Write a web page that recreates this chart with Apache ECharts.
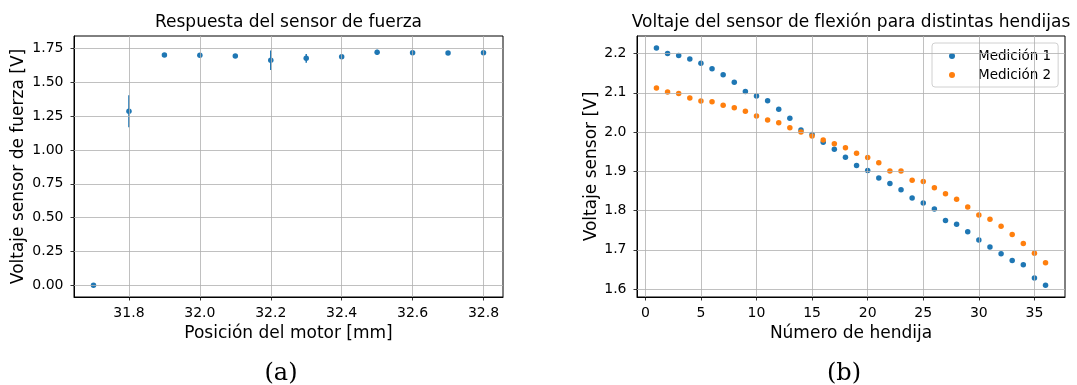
<!DOCTYPE html>
<html lang="es">
<head>
  <meta charset="utf-8">
</head>
<body style="margin: 0; background: #fff">
  <div id="container" style="width: 1077px; height: 385px"></div>

  <script src="https://cdn.jsdelivr.net/npm/echarts@6/dist/echarts.min.js"></script>
  <script>
    // (a) respuesta del sensor de fuerza
    var posicion = [31.7, 31.8, 31.9, 32.0, 32.1, 32.2, 32.3, 32.4, 32.5, 32.6, 32.7, 32.8];
    var fuerza = [0.0, 1.287, 1.703, 1.700, 1.695, 1.663, 1.678, 1.690, 1.722, 1.720, 1.717, 1.720];
    var fuerzaErr = [0.005, 0.118, 0.005, 0.005, 0.005, 0.072, 0.032, 0.01, 0.02, 0.008, 0.008, 0.008];
    var ticksXa = [31.8, 32.0, 32.2, 32.4, 32.6, 32.8];
    var ticksYa = [0, 0.25, 0.5, 0.75, 1.0, 1.25, 1.5, 1.75];

    // (b) sensor de flexion
    var hendija = [1, 2, 3, 4, 5, 6, 7, 8, 9, 10, 11, 12, 13, 14, 15, 16, 17, 18,
                   19, 20, 21, 22, 23, 24, 25, 26, 27, 28, 29, 30, 31, 32, 33, 34, 35, 36];
    var medicion1 = [2.214, 2.200, 2.195, 2.186, 2.175, 2.161, 2.146, 2.127, 2.103, 2.092,
                     2.080, 2.058, 2.035, 2.005, 1.994, 1.974, 1.956, 1.936, 1.915, 1.902,
                     1.883, 1.869, 1.853, 1.832, 1.819, 1.804, 1.775, 1.765, 1.746, 1.725,
                     1.707, 1.690, 1.673, 1.662, 1.628, 1.610];
    var medicion2 = [2.112, 2.102, 2.098, 2.087, 2.079, 2.077, 2.068, 2.062, 2.053, 2.041,
                     2.031, 2.024, 2.011, 2.000, 1.990, 1.980, 1.970, 1.960, 1.946, 1.935,
                     1.922, 1.901, 1.901, 1.877, 1.874, 1.858, 1.843, 1.829, 1.809, 1.789,
                     1.778, 1.760, 1.739, 1.716, 1.691, 1.667];
    var ticksXb = [0, 5, 10, 15, 20, 25, 30, 35];
    var ticksYb = [1.6, 1.7, 1.8, 1.9, 2.0, 2.1, 2.2];

    var azul = '#1f77b4', naranja = '#ff7f0e';
    var fuente = 'DejaVu Sans';

    var chart = echarts.init(document.getElementById('container'), null, { renderer: 'canvas' });

    function ejeX(idx, min, max, ticks, dec, nombre) {
      return {
        type: 'value', gridIndex: idx, min: min, max: max,
        name: nombre, nameLocation: 'middle', nameGap: 25,
        nameTextStyle: { fontFamily: fuente, fontSize: 17, color: '#000' },
        axisLine: { show: true, onZero: false, lineStyle: { color: '#000', width: 1 } },
        axisTick: { show: true, length: 3.5, customValues: ticks, lineStyle: { color: '#000', width: 0.8 } },
        axisLabel: { customValues: ticks, margin: 9.5, fontFamily: fuente, fontSize: 14, color: '#000',
          formatter: function (v) { return v.toFixed(dec); } },
        splitLine: { show: false }
      };
    }
    function ejeY(idx, min, max, ticks, dec, nombre, gap) {
      return {
        type: 'value', gridIndex: idx, min: min, max: max,
        name: nombre, nameLocation: 'middle', nameGap: gap, nameRotate: 90,
        nameTextStyle: { fontFamily: fuente, fontSize: 17, color: '#000' },
        axisLine: { show: true, onZero: false, lineStyle: { color: '#000', width: 1 } },
        axisTick: { show: true, length: 3.5, customValues: ticks, lineStyle: { color: '#000', width: 0.8 } },
        axisLabel: { customValues: ticks, margin: 10.5, fontFamily: fuente, fontSize: 14, color: '#000',
          formatter: function (v) { return v.toFixed(dec); } },
        splitLine: { show: false }
      };
    }

    // lineas de rejilla en los valores de los ticks
    function rejilla(idx, tx, ty) {
      var lineas = tx.map(function (v) { return { xAxis: v }; })
        .concat(ty.map(function (v) { return { yAxis: v }; }));
      return {
        name: 'rejilla' + idx, type: 'scatter', xAxisIndex: idx, yAxisIndex: idx,
        data: [], z: 1, silent: true,
        markLine: {
          silent: true, symbol: ['none', 'none'], animation: false,
          label: { show: false },
          lineStyle: { color: '#b0b0b0', width: 0.8, type: 'solid' },
          emphasis: { disabled: true },
          data: lineas
        }
      };
    }

    var option = {
      animation: false,
      backgroundColor: '#fff',
      grid: [
        { left: 74, top: 36, width: 429, height: 261, show: true, borderColor: '#000', borderWidth: 1 },
        { left: 637, top: 36, width: 428, height: 261, show: true, borderColor: '#000', borderWidth: 1 }
      ],
      xAxis: [
        ejeX(0, 31.645, 32.855, ticksXa, 1, 'Posición del motor [mm]'),
        ejeX(1, -0.75, 37.75, ticksXb, 0, 'Número de hendija')
      ],
      yAxis: [
        ejeY(0, -0.087, 1.843, ticksYa, 2, 'Voltaje sensor de fuerza [V]', 47),
        ejeY(1, 1.5798, 2.2447, ticksYb, 1, 'Voltaje sensor [V]', 37)
      ],
      legend: {
        data: ['Medición 1', 'Medición 2'],
        orient: 'vertical', left: 932, top: 43,
        icon: 'circle', itemWidth: 34, itemHeight: 6, itemGap: 5,
        padding: [6, 7, 5, 17],
        backgroundColor: 'rgba(255,255,255,0.8)',
        borderColor: '#d0d0d0', borderWidth: 1, borderRadius: 3,
        textStyle: { fontFamily: fuente, fontSize: 13.5, color: '#000', lineHeight: 14, padding: [0, 0, 0, 4] }
      },
      graphic: [
        { type: 'text', x: 288.5, y: 23, style: { text: 'Respuesta del sensor de fuerza', fontFamily: fuente, fontSize: 17, fill: '#000', align: 'center', verticalAlign: 'middle' } },
        { type: 'text', x: 851, y: 23, style: { text: 'Voltaje del sensor de flexión para distintas hendijas', fontFamily: fuente, fontSize: 17, fill: '#000', align: 'center', verticalAlign: 'middle' } },
        { type: 'text', x: 281, y: 374, style: { text: '(a)', fontFamily: 'DejaVu Serif', fontSize: 24, fill: '#000', align: 'center', verticalAlign: 'middle' } },
        { type: 'text', x: 844, y: 374, style: { text: '(b)', fontFamily: 'DejaVu Serif', fontSize: 24, fill: '#000', align: 'center', verticalAlign: 'middle' } }
      ],
      series: [
        rejilla(0, ticksXa, ticksYa),
        rejilla(1, ticksXb, ticksYb),
        {
          name: 'errores', type: 'custom', xAxisIndex: 0, yAxisIndex: 0,
          data: posicion.map(function (x, i) { return [x, fuerza[i], fuerzaErr[i]]; }),
          renderItem: function (params, api) {
            var a = api.coord([api.value(0), api.value(1) - api.value(2)]);
            var b = api.coord([api.value(0), api.value(1) + api.value(2)]);
            return { type: 'line', shape: { x1: a[0], y1: a[1], x2: b[0], y2: b[1] },
              style: { stroke: azul, lineWidth: 1.5 } };
          },
          z: 3
        },
        {
          name: 'fuerza', type: 'scatter', xAxisIndex: 0, yAxisIndex: 0,
          data: posicion.map(function (x, i) { return [x, fuerza[i]]; }),
          symbolSize: 5.5, itemStyle: { color: azul, opacity: 1 }, z: 4
        },
        {
          name: 'Medición 1', type: 'scatter', xAxisIndex: 1, yAxisIndex: 1,
          data: hendija.map(function (x, i) { return [x, medicion1[i]]; }),
          symbolSize: 5.5, itemStyle: { color: azul, opacity: 1 }, z: 4
        },
        {
          name: 'Medición 2', type: 'scatter', xAxisIndex: 1, yAxisIndex: 1,
          data: hendija.map(function (x, i) { return [x, medicion2[i]]; }),
          symbolSize: 5.5, itemStyle: { color: naranja, opacity: 1 }, z: 4
        }
      ]
    };

    chart.setOption(option);
    window.addEventListener('resize', chart.resize);
  </script>
</body>
</html>
